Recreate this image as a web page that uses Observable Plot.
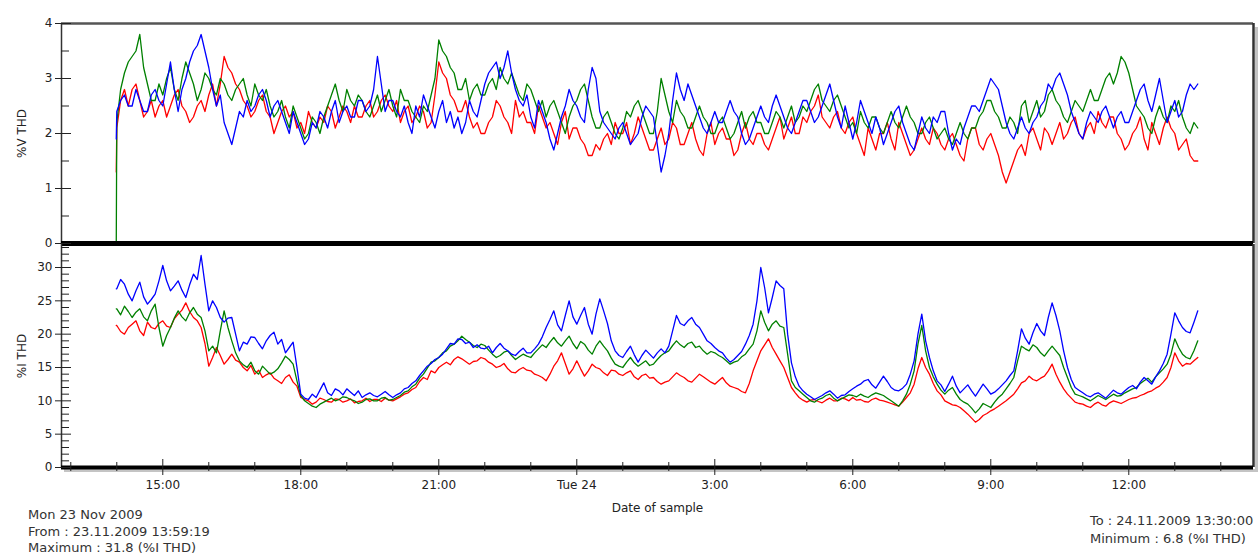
<!DOCTYPE html>
<html><head><meta charset="utf-8">
<script src="https://cdn.jsdelivr.net/npm/d3@7"></script>
<script src="https://cdn.jsdelivr.net/npm/@observablehq/plot@0.6"></script>
<style>
body{margin:0;background:#fff;}
#wrap{position:relative;width:1260px;height:557px;overflow:hidden;background:#fff;font-family:"DejaVu Sans",sans-serif;}
.chart{position:absolute;left:0;}
.note{position:absolute;font-size:13px;line-height:16px;color:#333;white-space:nowrap;}
.shadow{position:absolute;background:#c4c4c4;}
</style></head><body>
<div id="wrap"></div>
<script>
// ---- time axis ----
const xDomainStr = ["2009-11-23T12:47:53Z", "2009-11-24T14:42:40Z"];
const firstSample = "2009-11-23T13:59:19Z";
const gridStart = "2009-11-23T14:00:00Z";
const stepMin = 5;   // samples every 5 min after the first sample
const majorTickTimes = ["2009-11-23T15:00:00Z","2009-11-23T18:00:00Z","2009-11-23T21:00:00Z","2009-11-24T00:00:00Z","2009-11-24T03:00:00Z","2009-11-24T06:00:00Z","2009-11-24T09:00:00Z","2009-11-24T12:00:00Z"];
const majorTickLabels = ["15:00","18:00","21:00","Tue 24","3:00","6:00","9:00","12:00"];
const minorTickTimes = ["2009-11-23T13:00:00Z","2009-11-23T14:00:00Z","2009-11-23T16:00:00Z","2009-11-23T17:00:00Z","2009-11-23T19:00:00Z","2009-11-23T20:00:00Z","2009-11-23T22:00:00Z","2009-11-23T23:00:00Z","2009-11-24T01:00:00Z","2009-11-24T02:00:00Z","2009-11-24T04:00:00Z","2009-11-24T05:00:00Z","2009-11-24T07:00:00Z","2009-11-24T08:00:00Z","2009-11-24T10:00:00Z","2009-11-24T11:00:00Z","2009-11-24T13:00:00Z","2009-11-24T14:00:00Z"];

// ---- y ticks ----
const vTicks = [0,1,2,3,4];
const vMinorTicks = [0.5,1.5,2.5,3.5];
const iTicks = [0,5,10,15,20,25,30];
const iMinorTicks = [1,2,3,4,6,7,8,9,11,12,13,14,16,17,18,19,21,22,23,24,26,27,28,29,31,32,33];

const seriesNames = ["red","green","blue"];
const seriesColors = ["#e43f42","#23984a","#3636dc"];

// ---- %V THD (first value at 13:59:19, then every 5 min from 14:00 to 13:30; 12 values per hour) ----
const vRed = [1.3,
2.1,2.6,2.8,2.5,2.8,2.9,2.6,2.3,2.4,2.6,2.3,2.5,
2.6,2.3,2.5,2.7,2.8,2.5,2.4,2.2,2.3,2.5,2.6,2.4,
2.7,2.9,2.5,2.9,3.4,3.2,3.1,2.9,2.8,2.6,2.5,2.3,
2.4,2.6,2.7,2.4,2.3,2.0,2.2,2.4,2.5,2.3,2.4,2.1,
2.2,2.0,2.4,2.2,2.1,2.3,2.2,2.5,2.4,2.1,2.3,2.5,
2.4,2.2,2.5,2.3,2.3,2.5,2.6,2.3,2.4,2.6,2.7,2.5,
2.4,2.6,2.2,2.4,2.5,2.2,2.3,2.5,2.4,2.1,2.2,2.7,
3.3,3.1,3.0,2.7,2.6,2.4,2.4,2.6,2.3,2.1,2.2,2.0,
2.0,2.2,2.3,2.6,2.5,2.3,2.2,2.0,2.6,2.3,2.4,2.2,
2.2,2.0,2.5,2.3,2.1,2.2,2.0,1.8,2.2,2.4,1.9,2.1,
2.1,1.9,1.8,1.6,1.6,1.8,1.7,1.9,2.0,1.8,2.2,2.0,
2.0,2.2,1.8,2.0,2.3,2.1,1.9,1.7,1.7,1.9,2.1,1.8,
1.9,2.2,2.1,1.8,1.8,2.0,2.2,1.9,1.7,1.6,2.0,2.2,
1.8,2.0,2.1,1.9,1.9,1.6,1.7,2.0,2.2,1.9,1.8,2.0,
2.0,1.8,1.7,1.9,2.1,2.3,1.9,2.1,2.3,2.0,2.0,2.3,
2.2,2.4,2.5,2.7,2.3,2.2,2.1,2.3,2.4,2.1,2.0,2.2,
2.3,2.0,1.8,1.6,2.1,1.9,1.7,2.0,2.0,2.2,1.9,1.7,
2.2,2.0,1.8,1.6,1.7,1.9,2.1,1.9,1.8,2.1,2.0,1.8,
1.7,1.9,2.0,1.8,1.6,1.5,1.9,2.1,2.1,1.8,1.7,1.9,
2.0,1.8,1.6,1.3,1.1,1.3,1.5,1.7,1.8,1.6,2.0,2.1,
1.9,1.7,2.1,2.0,1.8,2.0,2.2,1.9,2.0,2.2,2.3,2.0,
1.9,2.1,2.2,2.0,2.4,2.2,2.1,2.3,2.3,2.0,1.9,1.7,
1.8,2.0,2.1,2.3,1.9,1.7,2.2,2.0,1.8,2.1,2.3,2.1,
2.0,1.7,1.8,1.9,1.6,1.5,1.5];
const vGreen = [0,
2.2,2.8,3.1,3.3,3.4,3.5,3.8,3.2,2.9,2.6,2.6,2.9,
2.7,3.0,3.2,2.8,2.6,3.0,3.3,3.1,2.9,2.6,2.8,3.1,
3.0,2.8,2.7,3.0,2.9,2.7,2.6,2.8,2.9,3.0,2.7,2.5,
2.9,2.7,2.6,2.8,2.5,2.3,2.4,2.6,2.3,2.1,2.5,2.3,
2.1,1.9,2.0,2.3,2.2,2.0,2.3,2.5,2.7,2.9,2.6,2.4,
2.8,2.6,2.5,2.7,2.6,2.4,2.3,2.5,2.7,2.4,2.6,2.8,
2.5,2.3,2.8,2.6,2.6,2.4,2.3,2.2,2.5,2.4,2.7,3.0,
3.7,3.5,3.4,3.2,3.1,2.8,2.8,3.0,2.6,2.8,2.9,2.7,
2.7,2.9,3.0,2.8,3.2,3.0,2.9,3.1,2.9,2.7,2.6,2.9,
2.8,2.6,2.4,2.6,2.3,2.5,2.6,2.4,2.2,2.0,2.3,2.5,
2.6,2.8,2.9,2.6,2.3,2.1,2.1,2.3,2.4,2.2,2.0,1.9,
2.1,2.4,2.3,2.5,2.6,2.4,2.2,2.0,2.0,2.4,3.0,2.7,
2.4,2.2,2.6,2.4,2.3,2.1,2.1,2.3,2.5,2.3,2.2,2.0,
2.0,2.2,2.3,2.1,1.9,2.0,2.2,2.4,2.1,2.3,2.4,2.2,
2.2,2.0,2.0,2.2,2.4,2.3,2.1,2.3,2.5,2.2,2.3,2.5,
2.4,2.6,2.8,2.9,2.6,2.5,2.4,2.6,2.7,2.5,2.3,2.1,
2.2,2.0,2.4,2.2,2.1,2.3,2.3,2.1,2.0,2.2,2.4,2.2,
2.1,2.3,2.5,2.3,2.2,2.0,2.0,2.2,2.3,2.1,1.9,2.0,
2.1,1.9,1.8,2.0,2.2,2.0,1.9,2.1,2.1,2.3,2.4,2.6,
2.6,2.4,2.3,2.1,2.1,2.3,2.2,2.0,2.5,2.6,2.2,2.4,
2.6,2.3,2.4,2.7,2.8,2.6,2.5,2.3,2.2,2.4,2.6,2.5,
2.4,2.6,2.8,2.6,2.6,2.8,3.0,3.1,2.9,3.1,3.4,3.3,
3.1,2.8,2.5,2.4,2.3,2.1,2.0,2.3,2.5,2.3,2.2,2.5,
2.4,2.6,2.3,2.1,2.0,2.2,2.1];
const vBlue = [1.9,
2.4,2.6,2.7,2.5,2.5,2.8,2.6,2.4,2.4,2.7,2.8,2.6,
2.5,2.9,3.3,2.8,2.4,2.8,3.0,3.3,3.5,3.6,3.8,3.5,
3.2,2.8,2.5,2.7,2.2,2.0,1.8,2.1,2.4,2.3,2.6,2.4,
2.5,2.7,2.8,2.6,2.3,2.5,2.6,2.4,2.2,2.0,2.4,2.2,
2.0,1.8,1.9,2.2,2.1,2.4,2.3,2.1,2.4,2.6,2.2,2.4,
2.5,2.3,2.3,2.6,2.6,2.4,2.5,2.8,3.4,2.9,2.4,2.6,
2.6,2.4,2.3,2.5,2.2,2.0,2.5,2.3,2.7,2.5,2.3,2.1,
2.4,2.6,2.2,2.4,2.1,2.3,2.0,2.2,2.6,2.4,2.3,2.6,
2.9,3.1,3.2,3.3,3.0,3.2,3.5,3.1,2.8,2.6,2.5,2.7,
2.3,2.1,2.6,2.4,2.2,1.9,1.7,2.0,2.3,2.5,2.8,2.6,
2.5,2.3,2.2,2.8,3.2,3.0,2.4,2.2,2.1,2.0,1.9,2.1,
2.2,2.0,1.8,1.9,2.0,2.3,2.5,2.4,2.3,1.8,1.3,1.6,
2.0,2.6,3.1,2.8,2.6,2.9,2.7,2.5,2.3,2.1,2.0,2.2,
2.4,2.2,2.2,2.4,2.6,2.4,2.3,2.0,1.8,1.9,2.1,2.3,
2.5,2.3,2.2,2.5,2.7,2.5,2.3,2.1,2.0,2.2,2.4,2.6,
2.6,2.4,2.2,2.3,2.5,2.7,2.9,2.6,2.3,2.1,2.5,2.2,
1.9,2.2,2.6,2.4,2.2,2.0,2.3,2.1,1.8,2.0,2.2,2.4,
2.5,2.2,2.0,1.8,1.7,2.0,2.3,2.1,2.0,2.3,2.2,2.4,
2.4,2.0,1.7,1.9,1.8,2.1,2.3,2.5,2.5,2.4,2.6,2.8,
3.0,2.9,2.8,2.5,2.2,2.0,1.9,2.1,2.3,2.1,2.0,2.2,
2.3,2.5,2.6,2.9,2.8,3.0,3.1,2.9,2.7,2.4,2.2,2.0,
1.9,2.2,2.4,2.3,2.2,2.4,2.5,2.3,2.1,2.3,2.4,2.2,
2.2,2.4,2.6,2.8,2.9,2.6,2.4,2.7,3.0,2.6,2.2,2.4,
2.6,2.3,2.4,2.7,2.9,2.8,2.9];

// ---- %I THD (same sampling: first value at 13:59:19, then every 5 min) ----
const iRed = [21.3,
21.3,20.4,20.0,21.0,21.5,22.0,20.5,19.8,21.8,21.0,20.8,21.6,
22.0,21.2,21.0,22.3,23.0,23.6,24.7,23.4,22.5,22.0,21.0,18.6,
15.2,16.5,18.0,16.8,15.5,16.2,17.0,16.1,15.8,15.0,14.5,15.3,
14.0,14.6,13.5,13.9,14.2,13.4,13.0,12.6,13.5,13.9,12.8,12.2,
10.5,10.2,10.0,9.5,9.8,10.4,10.2,9.9,9.8,10.3,10.2,9.8,
10.0,10.3,9.7,9.9,10.0,10.4,9.9,10.2,10.2,9.9,10.4,10.1,
10.0,10.3,10.6,11.0,11.2,11.7,12.0,12.9,13.5,13.2,14.5,14.2,
15.0,15.4,15.8,15.4,16.2,16.6,16.3,15.9,15.5,15.9,16.0,16.5,
16.3,15.8,15.5,15.0,15.2,15.6,14.8,14.3,14.2,14.7,15.0,14.6,
14.5,14.0,13.8,13.5,13.0,14.0,15.2,16.0,17.2,15.6,14.0,14.8,
16.0,14.8,13.7,14.5,15.5,15.0,14.8,14.2,13.8,14.6,14.5,14.0,
13.8,14.2,14.5,13.6,13.2,13.8,14.0,13.4,13.5,12.9,12.5,12.8,
13.0,13.6,14.2,13.8,13.5,13.0,12.8,13.4,14.0,13.6,13.2,12.8,
12.5,13.0,13.5,12.7,12.2,12.0,11.8,11.4,11.2,12.6,14.5,16.0,
17.5,18.4,19.3,18.0,17.0,16.0,15.0,13.5,12.0,11.2,10.5,10.1,
9.8,10.1,10.2,9.9,9.7,10.1,10.4,10.0,10.0,10.4,10.3,10.0,
10.5,10.1,10.2,9.9,9.8,10.2,10.4,10.1,10.0,9.8,9.6,9.4,
9.2,9.8,10.5,11.2,12.5,14.8,16.5,15.0,14.0,12.6,11.5,10.9,
10.0,9.7,9.4,9.3,9.0,8.5,8.0,7.4,6.8,7.2,7.8,8.1,
8.5,8.8,9.2,9.6,10.0,10.5,11.0,11.8,12.7,13.0,13.7,13.2,
13.0,13.4,13.7,14.5,15.5,14.0,12.8,11.8,11.0,10.4,9.8,9.6,
9.5,9.2,9.0,9.5,9.8,9.4,9.2,9.7,10.0,9.8,9.6,9.9,
10.2,10.4,10.5,10.8,11.0,11.3,11.5,11.9,12.2,12.8,13.5,15.0,
17.2,16.0,15.2,15.6,15.5,16.0,16.5];
const iGreen = [23.8,
23.8,22.9,24.2,23.4,22.5,23.3,23.8,22.6,22.0,23.5,24.5,21.0,
18.2,19.8,21.0,22.4,23.5,22.6,22.0,23.2,24.0,23.0,22.5,20.5,
17.5,18.2,17.2,20.5,23.5,21.0,19.0,17.2,16.0,15.4,15.0,15.8,
14.5,14.0,15.2,14.6,14.0,14.3,14.8,15.7,16.7,16.2,15.5,13.0,
10.8,10.0,9.6,9.2,9.0,9.5,9.8,10.1,10.4,10.0,10.2,10.6,
10.5,10.2,10.0,9.6,9.8,10.2,10.3,10.0,10.0,10.4,10.5,10.1,
10.2,10.5,10.8,11.3,11.5,12.1,12.5,13.4,14.0,14.9,15.8,16.0,
16.5,17.2,17.5,18.2,18.5,19.0,19.7,19.2,18.8,18.3,18.0,18.5,
18.3,17.6,17.0,16.5,16.8,17.3,17.5,16.8,16.2,16.6,17.0,16.7,
16.5,17.2,17.8,18.4,18.0,18.8,19.5,18.7,18.2,19.0,19.7,18.6,
17.8,18.9,18.5,17.6,17.0,18.2,19.0,18.2,17.5,16.4,15.5,15.2,
15.0,15.8,16.5,15.7,15.2,15.6,16.0,15.3,15.5,16.2,16.8,17.2,
17.5,18.3,19.0,18.4,18.0,18.6,18.8,18.0,18.2,17.5,17.0,17.4,
17.2,16.8,16.5,16.0,15.5,15.8,16.0,16.6,17.0,17.8,18.5,20.5,
23.5,21.8,20.5,21.5,22.0,21.2,21.0,17.0,13.0,12.0,11.5,11.0,
10.5,10.0,9.8,10.2,10.4,10.8,11.0,10.4,10.0,10.3,10.6,10.9,
10.8,10.6,11.0,10.7,10.5,10.9,11.2,11.0,10.8,10.4,10.0,9.6,
9.2,10.0,11.0,12.5,14.5,18.5,21.3,17.5,15.0,13.6,12.5,11.6,
11.0,11.6,12.0,11.0,10.2,9.8,9.5,8.9,8.2,8.8,9.6,9.3,
9.0,9.8,10.5,11.0,11.8,12.6,13.5,16.0,18.2,17.8,17.5,18.4,
18.0,17.2,16.7,17.5,18.2,17.5,16.8,15.0,13.5,12.0,11.0,10.8,
10.6,10.3,10.0,10.4,10.8,10.5,10.2,10.6,11.0,10.7,10.8,11.2,
11.5,11.8,12.0,12.6,13.0,13.4,12.8,13.6,14.2,14.8,15.5,17.0,
19.3,18.0,17.0,16.5,16.3,17.5,19.0];
const iBlue = [26.8,
26.8,28.2,27.5,26.0,25.0,26.5,27.8,25.6,24.5,25.2,26.0,28.0,
30.3,28.0,26.5,27.2,28.0,26.6,25.5,27.4,29.0,28.2,31.8,27.5,
23.5,25.0,24.0,22.5,21.8,22.4,22.5,20.0,17.5,18.8,18.5,19.6,
19.5,18.6,17.8,19.0,19.8,20.3,18.5,19.2,17.2,18.0,18.8,15.0,
11.0,10.4,10.2,11.0,10.5,11.6,12.7,11.2,10.8,11.8,11.5,10.9,
11.8,11.3,10.8,11.5,10.5,10.9,11.2,10.8,10.6,11.0,11.4,10.9,
10.5,10.9,11.2,11.8,12.0,12.6,13.0,13.8,14.5,15.2,15.6,16.2,
16.5,17.0,17.8,18.6,18.5,19.3,19.2,18.6,18.8,18.0,18.4,17.9,
17.8,18.2,17.2,18.0,18.6,17.9,17.5,17.0,16.8,17.4,17.9,17.2,
17.2,17.8,18.5,19.6,21.0,22.2,23.5,21.4,20.5,22.8,25.0,22.6,
21.5,22.8,24.0,21.5,20.0,23.0,25.3,23.5,21.6,19.0,17.5,16.8,
16.5,17.4,18.2,16.9,15.8,16.8,17.6,17.0,16.4,17.2,17.8,17.2,
18.2,20.5,22.8,21.6,21.3,22.0,22.5,21.5,21.0,20.0,19.0,18.6,
18.0,17.5,17.2,16.4,15.8,16.2,16.8,17.4,18.5,19.8,21.5,25.0,
30.0,27.0,23.2,25.5,28.0,27.3,26.8,20.0,15.7,13.6,12.2,11.5,
11.0,10.6,10.2,10.5,10.8,11.2,11.5,11.0,10.4,10.8,10.9,11.4,
11.8,12.2,12.5,13.0,13.2,12.4,11.9,12.8,13.7,12.9,12.0,11.6,
11.5,11.9,12.5,14.0,16.0,20.0,23.0,19.0,16.5,14.5,13.0,12.4,
11.4,12.5,13.7,12.2,11.2,11.8,12.4,11.5,10.7,11.6,12.5,11.8,
11.0,11.3,11.8,12.4,13.0,13.8,14.5,17.5,20.8,19.4,18.5,20.2,
21.6,20.5,19.8,22.5,24.7,22.8,20.5,17.5,15.0,13.2,12.0,11.6,
11.2,10.8,10.6,11.0,11.2,10.8,10.4,11.0,11.6,11.2,11.0,11.5,
12.0,12.3,11.8,12.8,13.5,13.0,12.5,13.6,14.5,15.6,17.0,20.0,
23.2,22.0,21.0,20.4,20.2,21.8,23.5];

// ---- notes ----
const noteDate = "Mon 23 Nov 2009";
const noteFrom = "From : 23.11.2009 13:59:19";
const noteMax = "Maximum : 31.8 (%I THD)";
const noteTo = "To : 24.11.2009 13:30:00";
const noteMin = "Minimum : 6.8 (%I THD)";

// ---- build ----
const xDomain = xDomainStr.map(s => new Date(s));
function sampleTimes(n) {
  const t = [new Date(firstSample)];
  for (let i = 0; i < n - 1; i++) t.push(new Date(Date.parse(gridStart) + i * stepMin * 60000));
  return t;
}
function rows(arrs) {
  const times = sampleTimes(arrs[0].length);
  const out = [];
  arrs.forEach((arr, k) => arr.forEach((v, i) => out.push({t: times[i], v, s: seriesNames[k]})));
  return out;
}
const vRows = rows([vRed, vGreen, vBlue]);
const iRows = rows([iRed, iGreen, iBlue]);
const majors = majorTickTimes.map(s => new Date(s));
const minors = minorTickTimes.map(s => new Date(s));
const labelMap = new Map(majors.map((d, i) => [+d, majorTickLabels[i]]));

const baseStyle = {background: "transparent", fontFamily: "DejaVu Sans, sans-serif", fontSize: "12px", color: "#222", overflow: "visible"};
const colorScale = {domain: seriesNames, range: seriesColors};

const topChart = Plot.plot({
  width: 1260, height: 247, marginLeft: 61, marginRight: 7, marginTop: 23, marginBottom: 4,
  style: baseStyle,
  x: {type: "utc", domain: xDomain, axis: null},
  y: {domain: [0, 4]},
  color: colorScale,
  marks: [
    Plot.ruleY([vTicks[vTicks.length - 1]], {stroke: "#555", strokeWidth: 2.5}),
    Plot.ruleX([xDomain[1]], {stroke: "#333", strokeWidth: 2.5}),
    Plot.ruleX([xDomain[0]], {stroke: "#333", strokeWidth: 1.5}),
    Plot.line(vRows, {x: "t", y: "v", z: "s", stroke: "s", strokeWidth: 1.3}),
    Plot.ruleY([0], {stroke: "#000", strokeWidth: 5}),
    Plot.axisY(vTicks, {anchor: "left", tickSize: 6, tickPadding: 3, tickFormat: d => String(d), label: "%V THD", labelAnchor: "center", labelOffset: 44, labelArrow: "none"}),
    Plot.axisY(vTicks, {anchor: "left", tickSize: -10, fill: "none"}),
    Plot.axisY(vMinorTicks, {anchor: "left", tickSize: -8, fill: "none"})
  ]
});
topChart.classList.add("chart"); topChart.style.top = "0px";

const bottomChart = Plot.plot({
  width: 1260, height: 273, marginLeft: 61, marginRight: 7, marginTop: 0, marginBottom: 50,
  style: baseStyle,
  x: {type: "utc", domain: xDomain},
  y: {domain: [0, 33.45]},
  color: colorScale,
  marks: [
    Plot.ruleX([xDomain[1]], {stroke: "#333", strokeWidth: 2.5}),
    Plot.ruleX([xDomain[0]], {stroke: "#333", strokeWidth: 1.5}),
    Plot.line(iRows, {x: "t", y: "v", z: "s", stroke: "s", strokeWidth: 1.3}),
    Plot.ruleY([0], {stroke: "#000", strokeWidth: 4}),
    Plot.axisY(iTicks, {anchor: "left", tickSize: 6, tickPadding: 3, tickFormat: d => String(d), label: "%I THD", labelAnchor: "center", labelOffset: 44, labelArrow: "none"}),
    Plot.axisY(iTicks, {anchor: "left", tickSize: -10, fill: "none"}),
    Plot.axisY(iMinorTicks, {anchor: "left", tickSize: -8, fill: "none"}),
    Plot.axisX(majors, {anchor: "bottom", tickSize: 8, tickPadding: 5, tickFormat: d => labelMap.get(+d), label: "Date of sample", labelAnchor: "center", labelOffset: 44, labelArrow: "none"}),
    Plot.axisX(majors, {anchor: "bottom", tickSize: -8, fill: "none"}),
    Plot.axisX(minors, {anchor: "bottom", tickSize: 4, fill: "none"}),
    Plot.axisX(minors, {anchor: "bottom", tickSize: -5, fill: "none"})
  ]
});
bottomChart.classList.add("chart"); bottomChart.style.top = "244px";

const wrap = document.getElementById("wrap");
function addDiv(cls, css, text) {
  const d = document.createElement("div");
  d.className = cls; d.style.cssText = css;
  if (text) d.textContent = text;
  wrap.appendChild(d);
}
addDiv("shadow", "left:1255px;top:27px;width:3px;height:444px;");
addDiv("shadow", "left:64px;top:469px;width:1194px;height:3px;");
wrap.appendChild(topChart);
wrap.appendChild(bottomChart);
addDiv("note", "left:28px;top:507px;", noteDate);
addDiv("note", "left:28px;top:524px;", noteFrom);
addDiv("note", "left:28px;top:540px;", noteMax);
addDiv("note", "left:1090px;top:513px;", noteTo);
addDiv("note", "left:1090px;top:531px;", noteMin);
</script>
</body></html>
